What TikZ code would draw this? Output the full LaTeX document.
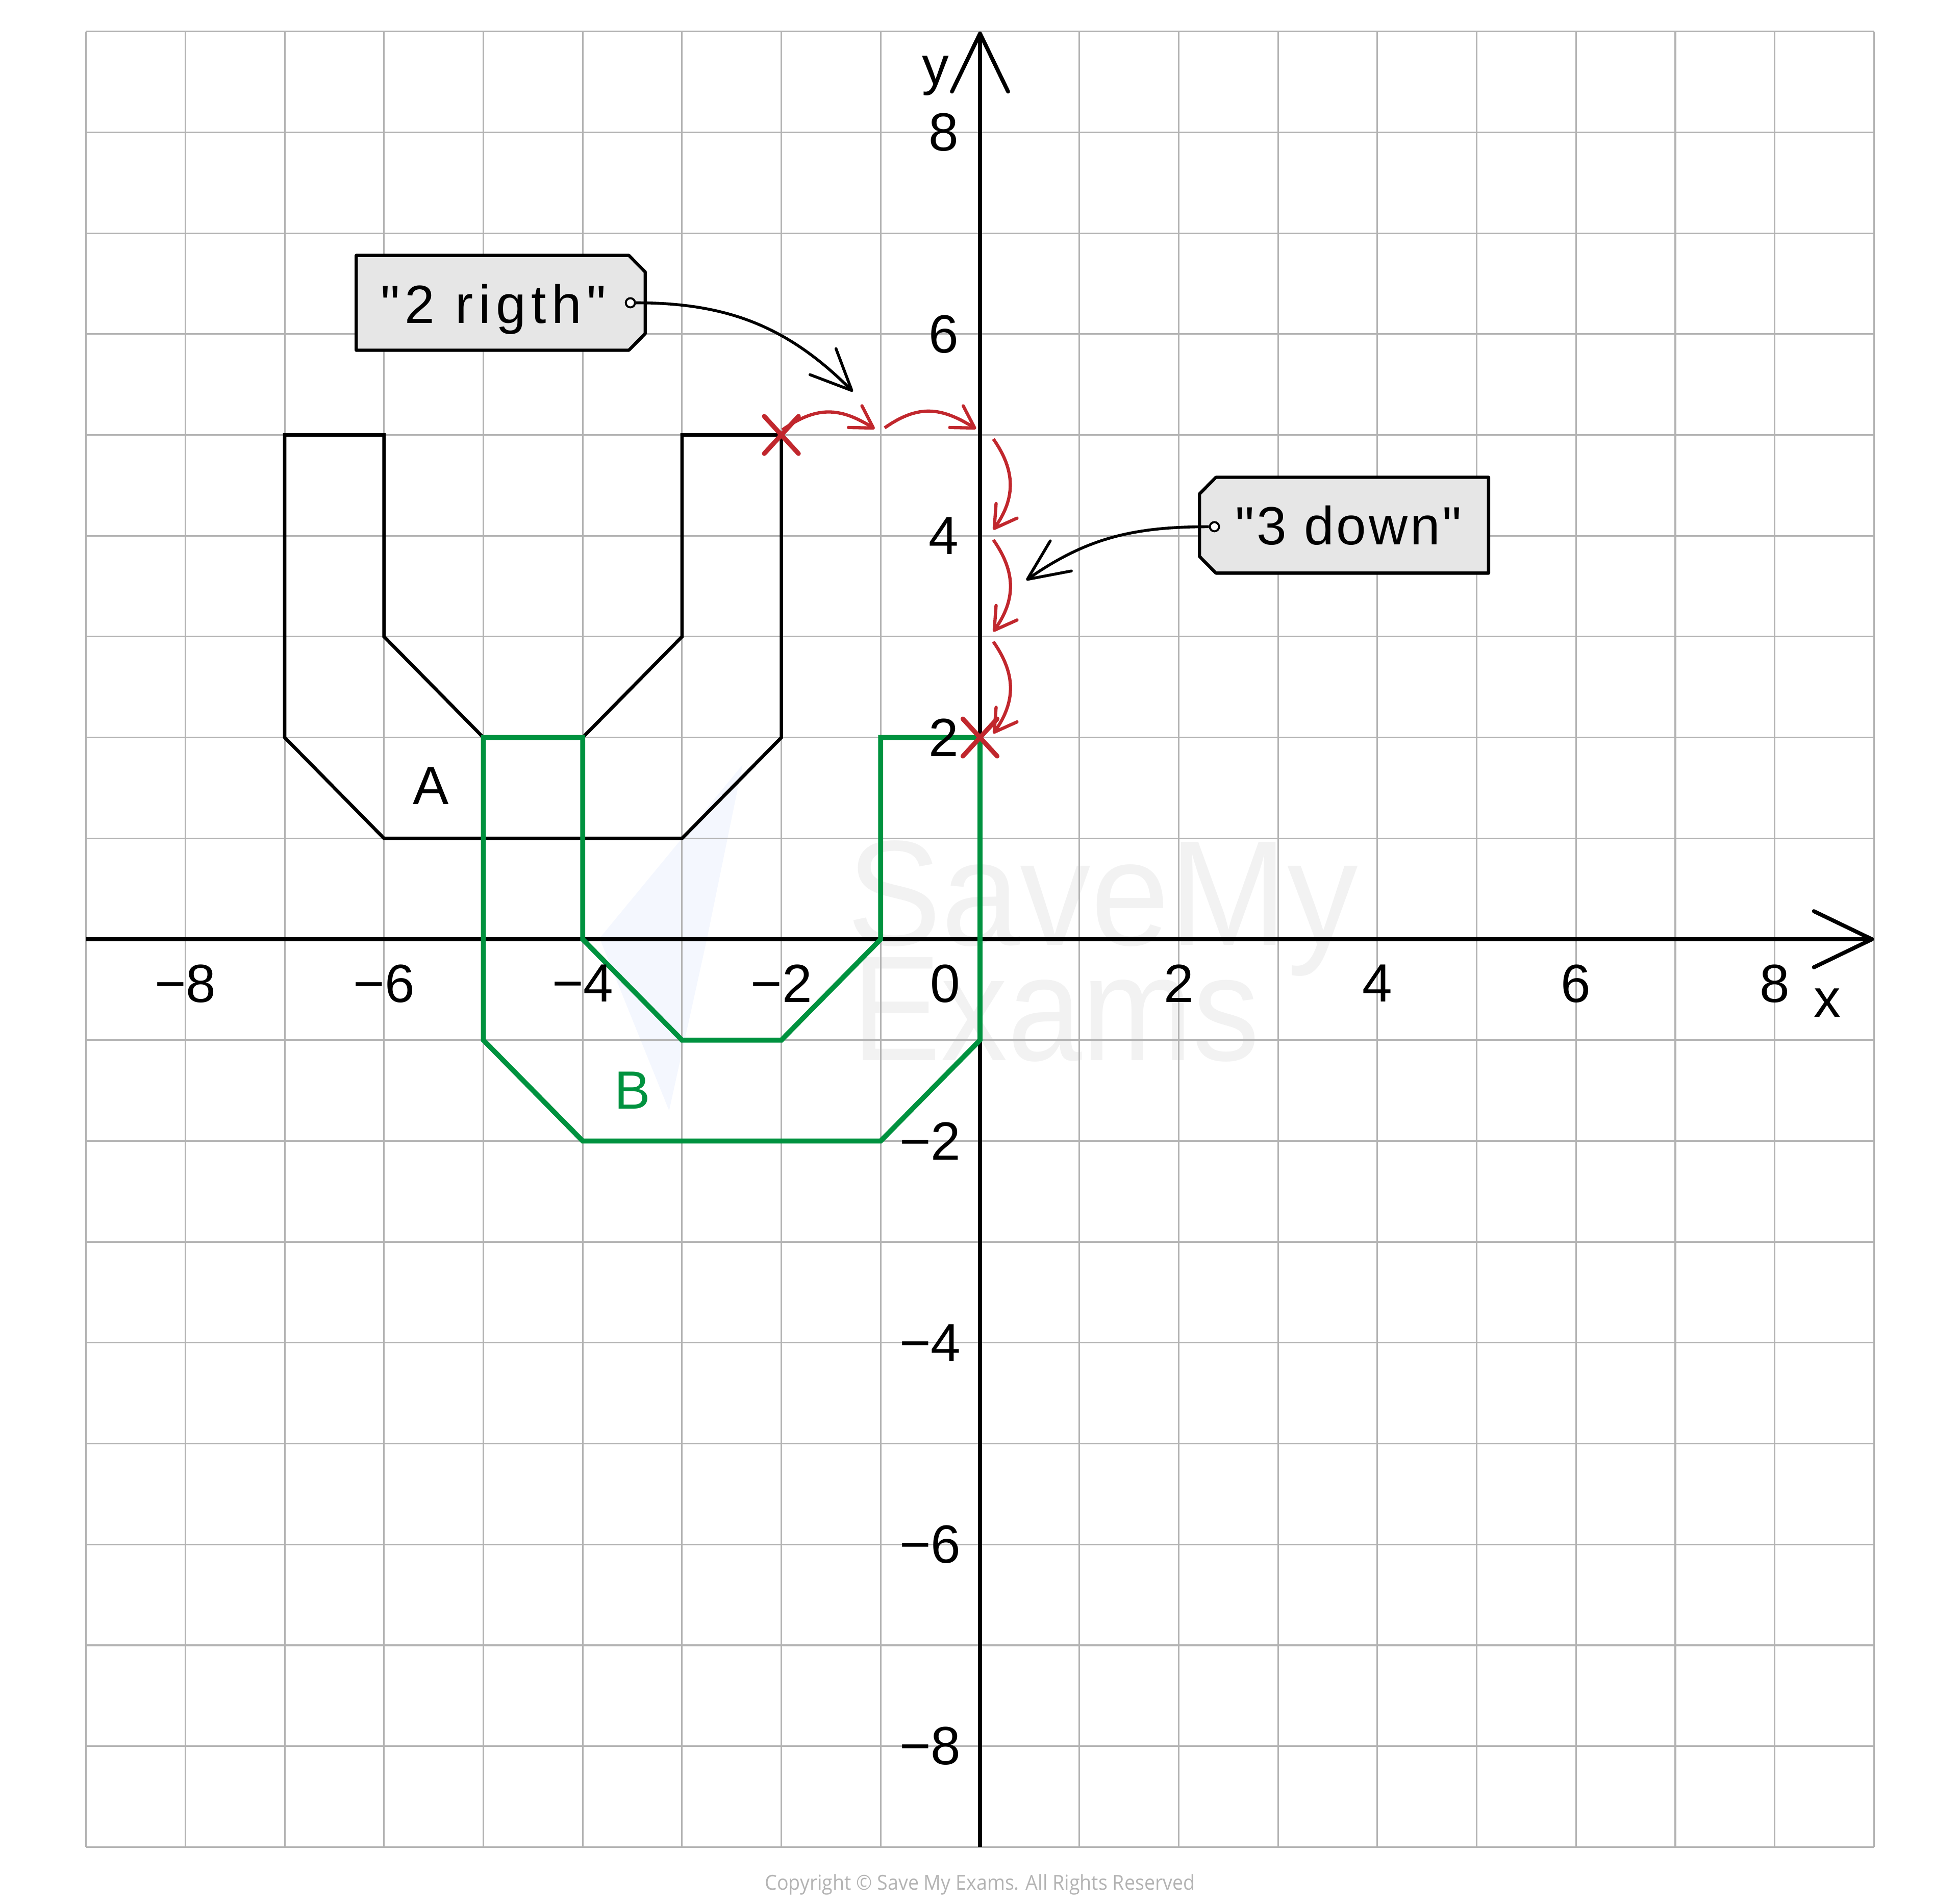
\documentclass[tikz,border=0pt]{standalone}
\usepackage{fontspec}
\setmainfont{Liberation Sans}
\newfontfamily\tagfontA{Liberation Sans}[LetterSpace=10]
\newfontfamily\tagfontB{Liberation Sans}[LetterSpace=4.5]
\newfontfamily\copyfont{Open Sans}
\usetikzlibrary{arrows.meta,shapes.misc}
\definecolor{gridgray}{HTML}{B3B3B3}
\definecolor{shapegreen}{HTML}{00923F}
\definecolor{markred}{HTML}{C1272D}
\definecolor{tagfill}{HTML}{E6E6E6}
\definecolor{wmgray}{HTML}{F2F2F2}
\definecolor{wmblue}{HTML}{F4F7FE}
\definecolor{copygray}{HTML}{B3B3B3}
\begin{document}
\begin{tikzpicture}[x=1.947cm,y=1.977cm,
  gridline/.style={draw=gridgray,line width=0.9pt},
  axisline/.style={line width=2.2pt,-{Straight Barb[length=1.14cm,width=1.1cm,round]}},
  shapeA/.style={draw=black,line width=1.9pt},
  shapeB/.style={draw=shapegreen,line width=2.8pt},
  lbl/.style={font=\fontsize{30}{36}\selectfont,inner sep=0pt},
  wm/.style={font=\fontsize{83.5}{90}\selectfont,text=wmgray,inner sep=0pt},
  tagbox/.style={draw=black,fill=tagfill,line width=1.8pt,line join=round},
  hole/.style={circle,draw=black,fill=white,line width=1.1pt,minimum size=0.18cm,inner sep=0pt},
  callout/.style={line width=1.6pt,-{Straight Barb[length=0.8cm,width=0.72cm,round]}},
  redarc/.style={draw=markred,line width=1.8pt,-{Straight Barb[length=0.42cm,width=0.5cm,round]}},
  crossmark/.style={draw=markred,cross out,line width=2.6pt,line cap=round,minimum width=0.58cm,minimum height=0.64cm,inner sep=0pt}
]
\useasboundingbox (-19.21cm,-18.90cm) rectangle (19.19cm,18.41cm);

% watermark
\fill[wmblue] (-2.39,1.73) -- (-3.83,0.01) -- (-3.13,-1.70) -- (-2.75,0.0) -- cycle;
\node[wm,anchor=base west] (wm1) at (-1.34,-0.06) {\scalebox{0.945}[1]{SaveMy}};
\node[wm,anchor=base west] (wm2) at (-1.29,-1.20) {\scalebox{0.89}[1]{Exams}};

% grid
\foreach \i in {-9,...,9} {
  \draw[gridline] (\i,-9) -- (\i,9);
  \draw[gridline] (-9,\i) -- (9,\i);
}

% axes
\draw[axisline] (-9,0) -- (9,0);
\draw[axisline] (0,-9) -- (0,9);

% shapes
\draw[shapeA] (-7,5) -- (-6,5) -- (-6,3) -- (-5,2) -- (-4,2) -- (-3,3) -- (-3,5) -- (-2,5) -- (-2,2) -- (-3,1) -- (-6,1) -- (-7,2) -- cycle;
\draw[shapeB] (-5,2) -- (-4,2) -- (-4,0) -- (-3,-1) -- (-2,-1) -- (-1,0) -- (-1,2) -- (0,2) -- (0,-1) -- (-1,-2) -- (-4,-2) -- (-5,-1) -- cycle;

\node[lbl] (labA) at (-5.53,1.52) {A};
\node[lbl,text=shapegreen] (labB) at (-3.5,-1.5) {B};

% x tick labels
\node[lbl,anchor=north] (xm8) at (-8,-0.25) {−8};
\node[lbl,anchor=north] (xm6) at (-6,-0.25) {−6};
\node[lbl,anchor=north] (xm4) at (-4,-0.25) {−4};
\node[lbl,anchor=north] (xm2) at (-2,-0.25) {−2};
\node[lbl,anchor=north] (xz) at (-0.35,-0.25) {0};
\node[lbl,anchor=north] (xp2) at (2,-0.25) {2};
\node[lbl,anchor=north] (xp4) at (4,-0.25) {4};
\node[lbl,anchor=north] (xp6) at (6,-0.25) {6};
\node[lbl,anchor=north] (xp8) at (8,-0.25) {8};
% y tick labels
\node[lbl,anchor=east] (yp8) at (-0.21,8) {8};
\node[lbl,anchor=east] (yp6) at (-0.21,6) {6};
\node[lbl,anchor=east] (yp4) at (-0.21,4) {4};
\node[lbl,anchor=east] (yp2) at (-0.21,2) {2};
\node[lbl,anchor=east] (ym2) at (-0.19,-2) {−2};
\node[lbl,anchor=east] (ym4) at (-0.19,-4) {−4};
\node[lbl,anchor=east] (ym6) at (-0.19,-6) {−6};
\node[lbl,anchor=east] (ym8) at (-0.19,-8) {−8};
% axis names
\node[lbl] (xname) at (8.53,-0.63) {x};
\node[lbl] (yname) at (-0.45,8.56) {y};

% tag 1
\draw[tagbox] (-6.28,6.78) -- (-3.535,6.78) -- (-3.37,6.615) -- (-3.37,6.005) -- (-3.535,5.84) -- (-6.28,5.84) -- cycle;
\node[lbl,anchor=base] (t1) at (-4.90,6.11) {\tagfontA "2 rigth"};
\node[hole] (h1) at (-3.52,6.31) {};
\coordinate (a1) at (-1.28,5.43);
\draw[callout] (h1.east) to[out=0,in=135] (a1);

% tag 2
\draw[tagbox] (2.375,4.58) -- (5.12,4.58) -- (5.12,3.63) -- (2.375,3.63) -- (2.21,3.795) -- (2.21,4.415) -- cycle;
\node[lbl,anchor=base] (t2) at (3.71,3.91) {\tagfontB "3 down"};
\node[hole] (h2) at (2.36,4.09) {};
\coordinate (a2) at (0.465,3.56);
\draw[callout] (h2.west) to[out=180,in=35] (a2);

% red steps
\coordinate (r1s) at (-1.99,5.05);
\coordinate (r1e) at (-1.06,5.06);
\coordinate (r2s) at (-0.96,5.07);
\coordinate (r2e) at (-0.04,5.06);
\coordinate (d1s) at (0.134,4.96);
\coordinate (d1e) at (0.134,4.06);
\coordinate (d2s) at (0.134,3.96);
\coordinate (d2e) at (0.134,3.05);
\coordinate (d3s) at (0.134,2.95);
\coordinate (d3e) at (0.134,2.04);
\draw[redarc] (r1s) to[out=35,in=148,looseness=1.15] (r1e);
\draw[redarc] (r2s) to[out=35,in=148,looseness=1.15] (r2e);
\draw[redarc] (d1s) to[out=-55,in=55,looseness=1.1] (d1e);
\draw[redarc] (d2s) to[out=-55,in=55,looseness=1.1] (d2e);
\draw[redarc] (d3s) to[out=-55,in=55,looseness=1.1] (d3e);
\node[crossmark] (X1) at (-2,5) {};
\node[crossmark] (X2) at (0,2) {};

% copyright
\node[inner sep=0pt,text=copygray,font=\copyfont\fontsize{11.5}{13}\selectfont] (copy) at (0,-9.37) {\scalebox{0.93}[1]{Copyright © Save My Exams. All Rights Reserved}};
\end{tikzpicture}
\end{document}
